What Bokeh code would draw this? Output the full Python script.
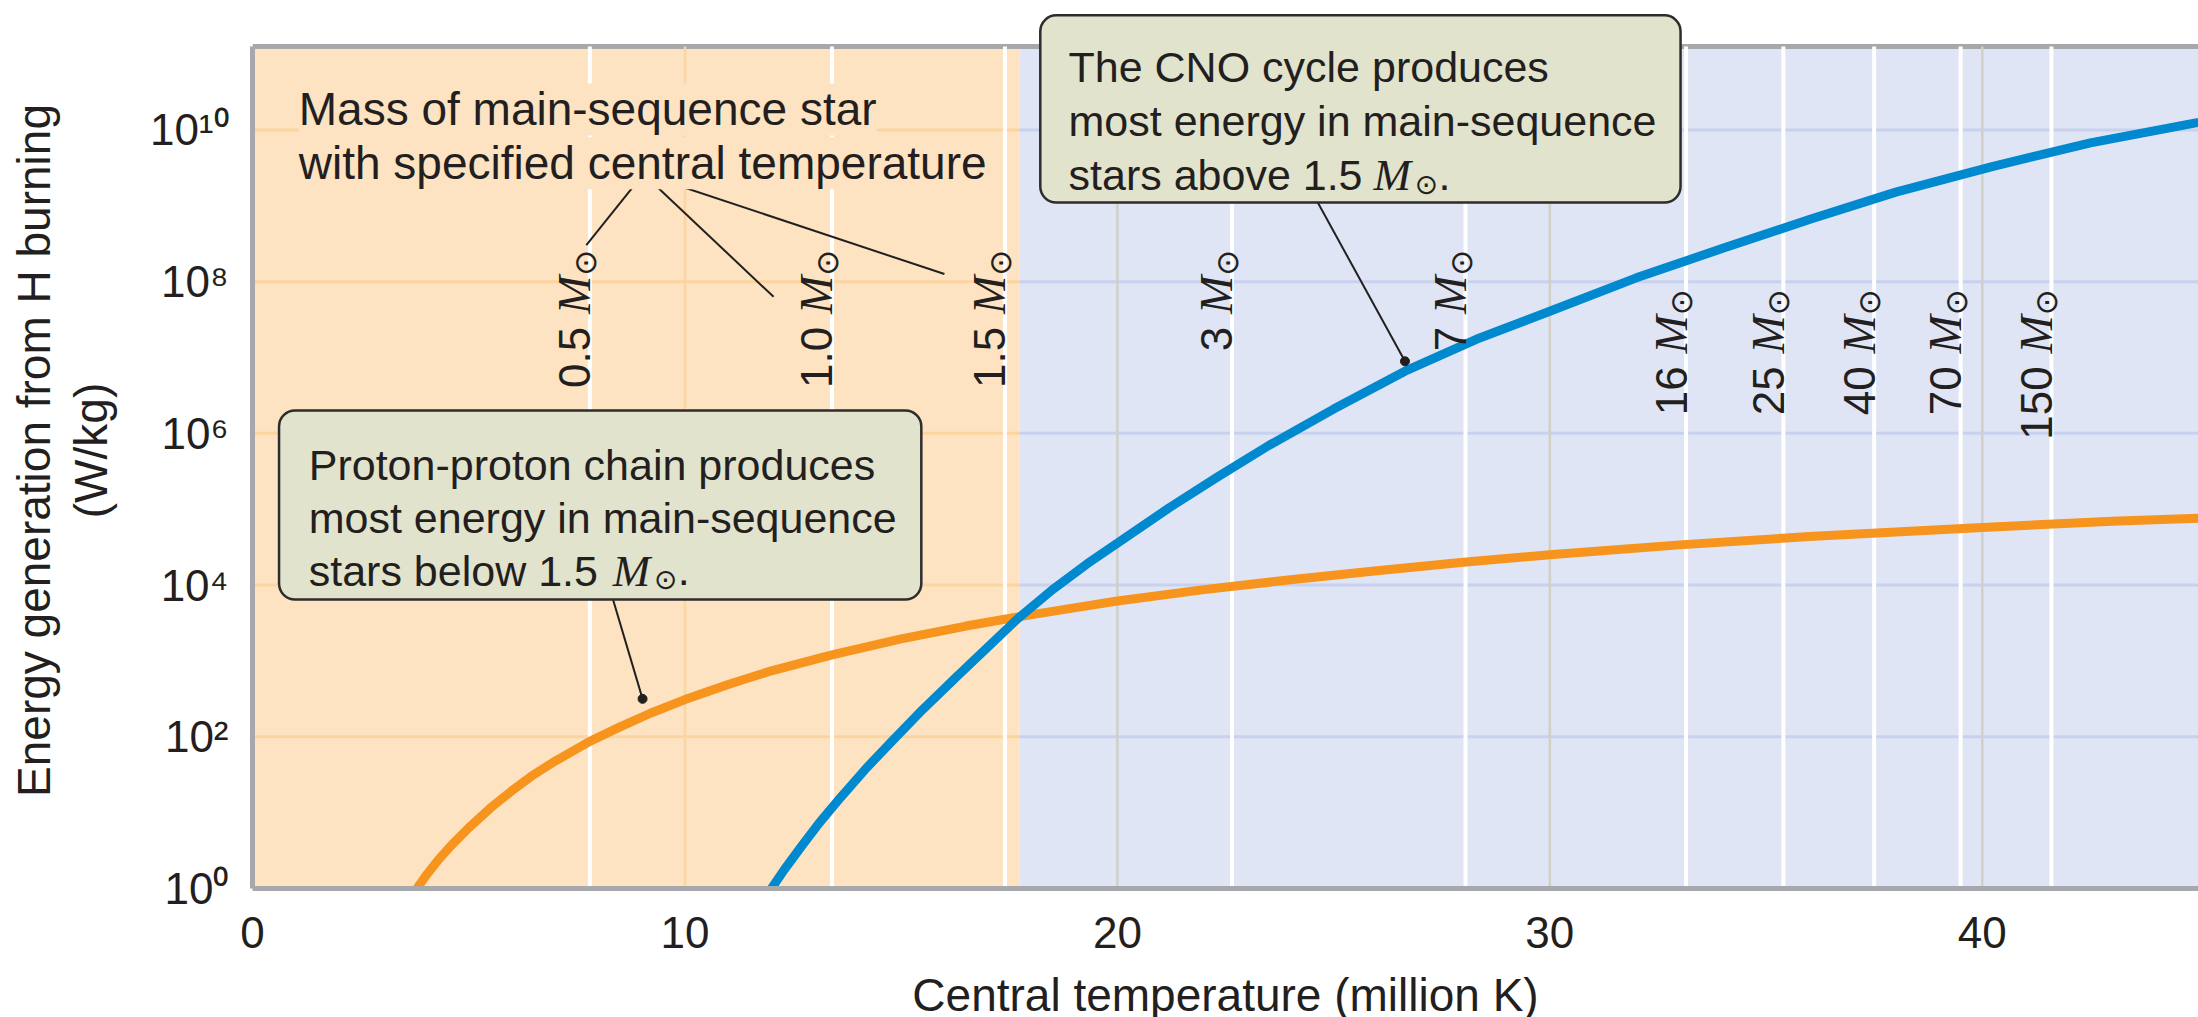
import math
from bokeh.plotting import figure
from bokeh.models import Range1d, FixedTicker, Span, BoxAnnotation, Label
from bokeh.embed import file_html
from bokeh.resources import INLINE
from bokeh.core.properties import value

# ---------------- data ----------------
# proton-proton chain: central temperature (million K) and log10 energy generation (W/kg)
pp_temp = [3.8, 4.0, 4.3, 4.6, 5.0, 5.5, 6.0, 6.5, 7.0, 7.8, 8.5, 9.2, 10.0, 11.0, 12.0,
           13.4, 15.0, 16.5, 17.7, 19.0, 20.0, 22.0, 24.0, 26.0, 28.0, 30.0, 33.0, 36.0,
           40.0, 43.0, 45.0]
pp_log_eps = [0.0, 0.16, 0.38, 0.57, 0.8, 1.06, 1.29, 1.5, 1.68, 1.94, 2.13, 2.31, 2.49,
              2.69, 2.87, 3.08, 3.29, 3.46, 3.58, 3.7, 3.79, 3.94, 4.07, 4.19, 4.3, 4.4,
              4.53, 4.64, 4.76, 4.84, 4.88]

# CNO cycle
cno_temp = [12.0, 12.3, 12.7, 13.1, 13.6, 14.2, 14.8, 15.5, 16.3, 17.0, 17.7, 18.5, 19.3,
            20.2, 21.2, 22.3, 23.5, 25.0, 26.65, 28.3, 30.0, 32.0, 34.0, 36.0, 38.0, 40.25,
            42.5, 45.0]
cno_log_eps = [0.0, 0.25, 0.56, 0.86, 1.2, 1.59, 1.95, 2.36, 2.8, 3.18, 3.56, 3.94, 4.28,
               4.63, 5.02, 5.42, 5.84, 6.32, 6.82, 7.24, 7.61, 8.05, 8.44, 8.82, 9.18, 9.52,
               9.83, 10.1]

# main-sequence star masses (solar masses) and their central temperatures (million K)
mass_names = ["0.5", "1.0", "1.5", "3", "7", "16", "25", "40", "70", "150"]
mass_values = [0.5, 1.0, 1.5, 3, 7, 16, 25, 40, 70, 150]
mass_temp = [7.8, 13.4, 17.4, 22.65, 28.05, 33.15, 35.4, 37.5, 39.5, 41.6]

# temperature where the CNO cycle takes over from the pp chain
pp_cno_split = 17.73

x_ticks = [0, 10, 20, 30, 40]
x_tick_labels = ["0", "10", "20", "30", "40"]
y_ticks = [1, 1e2, 1e4, 1e6, 1e8, 1e10]
y_tick_labels = ["10\u2070", "10\u00b2", "10\u2074", "10\u2076", "10\u2078", "10\u00b9\u2070"]

# ---------------- style ----------------
ORANGE_BG = "#fde3c1"
BLUE_BG = "#dfe5f4"
ORANGE_GRID = "#fbd5a0"
BLUE_GRID = "#c8d2ee"
VGRID_ORANGE = "#fbd6a2"
VGRID_GREY = "#d0d0c8"
ORANGE_LINE = "#f7941d"
BLUE_LINE = "#0089cf"
BOX_FILL = "#e2e3cc"
BOX_LINE = "#2d2d2d"
AXIS_GREY = "#a6a8ab"
TEXT = "#231f20"
SANS = "Liberation Sans"
SERIF = "Liberation Serif"
SUN_FONT = "DejaVu Sans"

X_MAX = 45
LOG_TOP = 11.1            # top of the plotted area (decades)
PX_PER_DECADE = 842 / LOG_TOP
HEADROOM = 34             # white space above the plot area, for the callout box (px)
LOG_RANGE_TOP = LOG_TOP + HEADROOM / PX_PER_DECADE
FRAME_W, FRAME_H = 1946, 842 + HEADROOM
PX_LOG = 1 / PX_PER_DECADE   # decades per screen pixel

p = figure(x_range=Range1d(0, X_MAX), y_range=Range1d(1, 10 ** LOG_RANGE_TOP), y_axis_type="log",
           frame_width=FRAME_W, frame_height=FRAME_H,
           min_border_left=252, min_border_right=0, min_border_top=12, min_border_bottom=129,
           output_backend="svg", toolbar_location=None)
p.background_fill_color = "white"
p.border_fill_color = "white"
p.outline_line_color = None
p.grid.visible = False

# pp-chain and CNO regions
p.add_layout(BoxAnnotation(left=0, right=pp_cno_split, bottom=1, top=10 ** LOG_TOP,
                           fill_color=ORANGE_BG, fill_alpha=1, line_color=None, level="underlay"))
p.add_layout(BoxAnnotation(left=pp_cno_split, right=X_MAX, bottom=1, top=10 ** LOG_TOP,
                           fill_color=BLUE_BG, fill_alpha=1, line_color=None, level="underlay"))

# grid lines (every other decade, every 10 million K)
gy = [t for t in y_ticks if t > 1]
p.segment(x0=[0] * len(gy), x1=[pp_cno_split] * len(gy), y0=gy, y1=gy,
          line_color=ORANGE_GRID, line_width=3)
p.segment(x0=[pp_cno_split] * len(gy), x1=[X_MAX] * len(gy), y0=gy, y1=gy,
          line_color=BLUE_GRID, line_width=3)
gx = [t for t in x_ticks if t > 0]
p.segment(x0=gx, x1=gx, y0=[1] * len(gx), y1=[10 ** LOG_TOP] * len(gx),
          line_color=[VGRID_ORANGE if t < pp_cno_split else VGRID_GREY for t in gx],
          line_width=2.5)

# white lines: central temperature of stars of given mass
p.segment(x0=mass_temp, x1=mass_temp, y0=[1] * len(mass_temp),
          y1=[10 ** LOG_TOP] * len(mass_temp), line_color="white", line_width=4)

# curves
p.line(pp_temp, [10 ** v for v in pp_log_eps], line_color=ORANGE_LINE, line_width=9,
       line_join="round")
p.line(cno_temp, [10 ** v for v in cno_log_eps], line_color=BLUE_LINE, line_width=9,
       line_join="round")

# mass labels (rotated), built from number + italic M + sun symbol
SUN_LEN, M_LEN, GAP = 26, 40, 11
tops = [8.42 if m <= 7 else 7.9 for m in mass_values]
p.text(x=mass_temp, y=[10 ** t for t in tops], text=["\u2299"] * len(mass_temp),
       angle=math.pi / 2, x_offset=-5, text_align="right", text_baseline="alphabetic",
       text_font=value(SUN_FONT), text_font_size="31px", text_color=TEXT)
p.text(x=mass_temp, y=[10 ** (t - SUN_LEN * PX_LOG) for t in tops], text=["M"] * len(mass_temp),
       angle=math.pi / 2, x_offset=-15, text_align="right", text_baseline="alphabetic",
       text_font=value(SERIF), text_font_style="italic", text_font_size="46px", text_color=TEXT)
p.text(x=mass_temp, y=[10 ** (t - (SUN_LEN + M_LEN + GAP) * PX_LOG) for t in tops],
       text=mass_names, angle=math.pi / 2, x_offset=-15, text_align="right",
       text_baseline="alphabetic", text_font=value(SANS), text_font_size="44px", text_color=TEXT)

# pointer lines from the "Mass of ..." caption
apex = (9.04, 9.42)
ends = [(7.72, 8.48), (12.05, 7.8), (16.0, 8.1)]
p.segment(x0=[apex[0]] * 3, y0=[10 ** apex[1]] * 3, x1=[e[0] for e in ends],
          y1=[10 ** e[1] for e in ends], line_color=TEXT, line_width=2)

# pointer lines from the callout boxes to the curves
p.segment(x0=[24.58, 8.29], y0=[10 ** 9.1, 10 ** 3.9], x1=[26.65, 9.02],
          y1=[10 ** 6.95, 10 ** 2.5], line_color=TEXT, line_width=2)
p.scatter(x=[26.65, 9.02], y=[10 ** 6.95, 10 ** 2.5], size=9, color=TEXT)

# caption
for txt, ly in [("Mass of main-sequence star", 10.27), ("with specified central temperature", 9.56)]:
    p.add_layout(Label(x=1.07, y=10 ** ly, text=txt, text_font=SANS, text_font_size="46px",
                       text_color=TEXT, text_baseline="alphabetic",
                       background_fill_color=ORANGE_BG, background_fill_alpha=1))

# callout boxes
def callout(cx, cy, w, h, x_text, lines, m_off):
    p.add_layout(Label(x=cx, y=10 ** cy, text=" ", text_font_size="1px",
                       text_align="center", text_baseline="middle",
                       padding=dict(left=w // 2, right=w // 2, top=h // 2, bottom=h // 2),
                       background_fill_color=BOX_FILL, background_fill_alpha=1,
                       border_line_color=BOX_LINE, border_line_width=2.5, border_radius=16))
    for txt, ly in lines:
        p.add_layout(Label(x=x_text, y=10 ** ly, text=txt, text_font=SANS, text_font_size="43px",
                           text_color=TEXT, text_baseline="alphabetic"))
    last_y = lines[-1][1]
    p.add_layout(Label(x=x_text, y=10 ** last_y, x_offset=m_off, text="M", text_font=SERIF,
                       text_font_style="italic", text_font_size="45px", text_color=TEXT,
                       text_baseline="alphabetic"))
    p.add_layout(Label(x=x_text, y=10 ** (last_y - 9 * PX_LOG), x_offset=m_off + 41,
                       text="\u2299", text_font=SUN_FONT, text_font_size="28px",
                       text_color=TEXT, text_baseline="alphabetic"))
    p.add_layout(Label(x=x_text, y=10 ** last_y, x_offset=m_off + 65, text=".", text_font=SANS,
                       text_font_size="43px", text_color=TEXT, text_baseline="alphabetic"))

callout(25.62, 10.277, 641, 187, 18.87,
        [("The CNO cycle produces", 10.83), ("most energy in main-sequence", 10.12),
         ("stars above 1.5", 9.40)], 305)
callout(8.04, 5.055, 642, 189, 1.30,
        [("Proton-proton chain produces", 5.58), ("most energy in main-sequence", 4.89),
         ("stars below 1.5", 4.19)], 304)

# top border of the plot area
p.add_layout(Span(location=10 ** LOG_TOP, dimension="width", line_color=AXIS_GREY,
                  line_width=5, level="underlay"))

# axes
p.xaxis.ticker = FixedTicker(ticks=x_ticks)
p.xaxis.major_label_overrides = {t: s for t, s in zip(x_ticks, x_tick_labels)}
p.yaxis.ticker = FixedTicker(ticks=y_ticks)
p.yaxis.major_label_overrides = {t: s for t, s in zip(y_ticks, y_tick_labels)}
p.yaxis.bounds = (1, 10 ** LOG_TOP)
p.xaxis.axis_label = "Central temperature (million K)"
p.yaxis.axis_label = "Energy generation from H burning\n(W/kg)"
for ax in (p.xaxis[0], p.yaxis[0]):
    ax.axis_line_color = AXIS_GREY
    ax.axis_line_width = 5
    ax.major_tick_line_color = None
    ax.minor_tick_line_color = None
    ax.major_tick_out = 0
    ax.major_tick_in = 0
    ax.major_label_text_font = SANS
    ax.major_label_text_font_size = "44px"
    ax.major_label_text_color = TEXT
    ax.axis_label_text_font = SANS
    ax.axis_label_text_font_size = "46px"
    ax.axis_label_text_font_style = "normal"
    ax.axis_label_text_color = TEXT
p.xaxis.major_label_standoff = 28
p.xaxis.axis_label_standoff = 18
p.yaxis.major_label_standoff = 24
p.yaxis.axis_label_standoff = 30
p.yaxis.axis_label_text_line_height = 1.1

open("out.html", "w").write(file_html(p, INLINE, title="H burning energy generation"))
